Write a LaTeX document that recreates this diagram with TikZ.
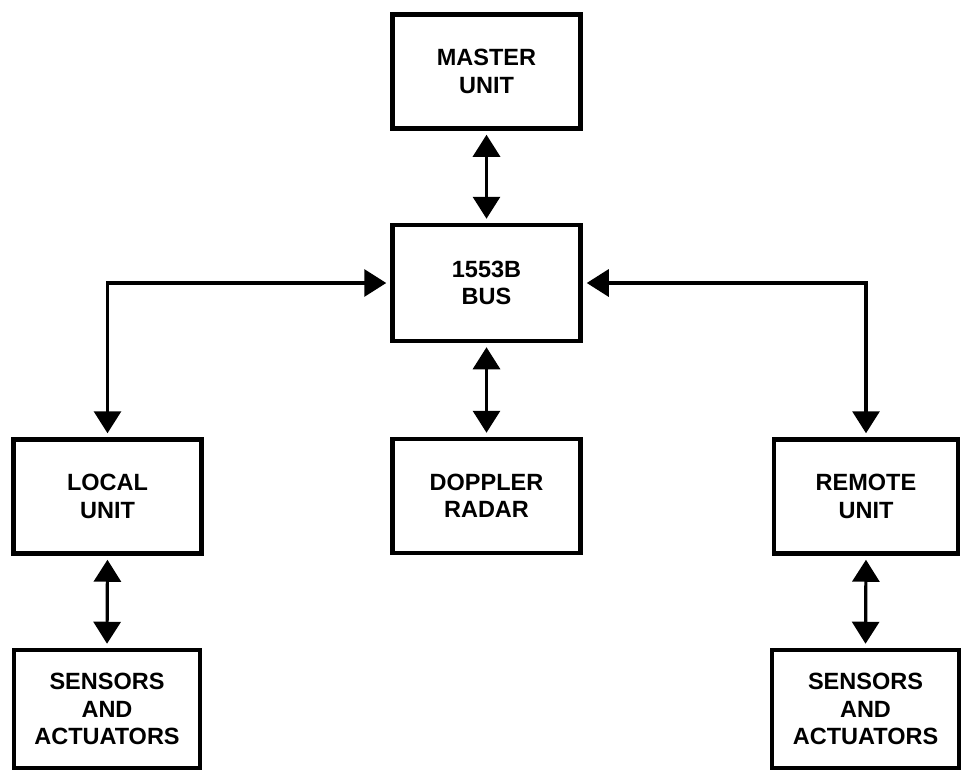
\documentclass[tikz,border=0pt]{standalone}
\usepackage{fontspec}
\setmainfont{Liberation Sans}
\usetikzlibrary{arrows.meta}
\begin{document}
\begin{tikzpicture}[x=1pt,y=-1pt,
  blk/.style={draw, line width=4.5pt, minimum width=188pt, minimum height=114pt,
    inner sep=0pt, align=center, font=\fontsize{23.5}{27.5}\selectfont\bfseries},
  conn/.style={line width=3.2pt, {Triangle[width=27pt,length=22pt]}-{Triangle[width=27pt,length=22pt]},
    shorten <=4pt, shorten >=4pt}]
\useasboundingbox (0,0) rectangle (966,773);
\node[blk] (master) at (486.5,71.5) {MASTER\\UNIT};
\node[blk, minimum height=116pt] (bus) at (486.5,283) {1553B\\BUS};
\node[blk] (local) at (107.5,496.5) {LOCAL\\UNIT};
\node[blk] (doppler) at (486.5,496) {DOPPLER\\RADAR};
\node[blk, minimum width=184pt] (remote) at (866,496.5) {REMOTE\\UNIT};
\node[blk, minimum width=186pt, minimum height=118pt] (sensl) at (107,709) {SENSORS\\AND\\ACTUATORS};
\node[blk, minimum width=187pt, minimum height=118pt] (sensr) at (865.5,709) {SENSORS\\AND\\ACTUATORS};
\draw[conn] (master.south) -- (bus.north);
\draw[conn] (bus.south) -- (doppler.north);
\draw[conn] (bus.west) -| (local.north);
\draw[conn] (bus.east) -| (remote.north);
\draw[conn] (local.south) -- (sensl.north);
\draw[conn] (remote.south) -- (sensr.north);
\end{tikzpicture}
\end{document}
